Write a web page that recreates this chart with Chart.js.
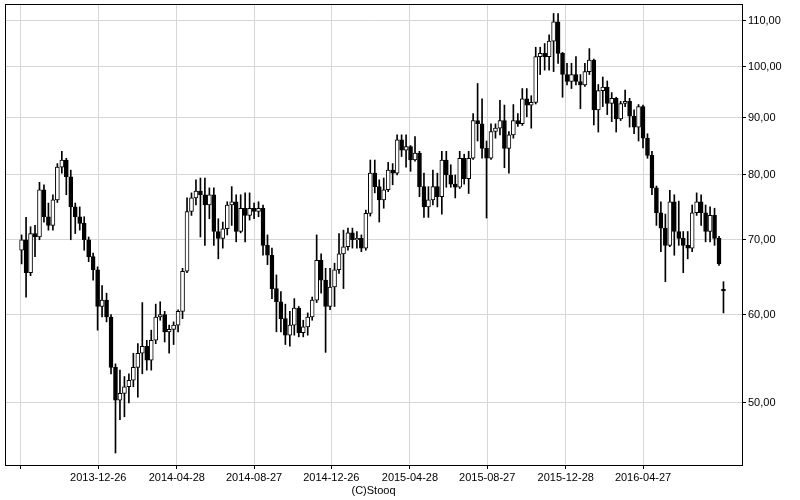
<!DOCTYPE html>
<html>
<head>
<meta charset="utf-8">
<script src="https://cdn.jsdelivr.net/npm/chart.js@4"></script>
<style>
  html, body { margin: 0; padding: 0; background: #fff; }
</style>
</head>
<body>
<canvas id="stockChart" width="800" height="500"></canvas>
<script>
// weekly candles, first week starting 2013-08-28 (last entry = last session)
const firstWeek = "2013-08-28";

const open = [
  68.5, 70.0, 65.4, 70.9, 70.4, 77.6, 73.4, 72.1, 76.0, 81.3,
  82.5, 79.7, 74.9, 73.4, 72.4, 70.0, 67.6, 65.8, 61.0, 61.8,
  59.7, 53.8, 50.3, 51.0, 51.7, 52.4, 53.8, 55.4, 56.2, 54.6,
  56.9, 59.7, 60.0, 57.9, 58.2, 58.7, 60.4, 65.6, 74.2, 76.3,
  77.4, 76.8, 75.2, 76.8, 71.2, 70.2, 71.6, 75.2, 75.7, 71.2,
  74.7, 73.6, 74.7, 74.2, 74.7, 69.2, 67.8, 63.3, 61.6, 59.5,
  57.5, 58.7, 60.8, 57.8, 58.5, 59.7, 61.8, 67.1, 64.4, 61.0,
  63.5, 65.8, 68.0, 69.0, 71.0, 70.0, 70.2, 68.8, 73.9, 80.3,
  78.1, 76.0, 77.6, 80.8, 80.3, 86.0, 84.2, 84.8, 82.5, 83.7,
  78.1, 74.9, 76.0, 78.1, 76.5, 82.5, 80.0, 78.5, 78.0, 82.8,
  79.4, 82.8, 89.5, 88.9, 84.5, 82.8, 87.5, 88.1, 89.5, 84.5,
  86.9, 89.5, 88.9, 93.6, 92.4, 92.9, 102.1, 102.8, 102.1, 105.4,
  109.7, 102.8, 98.4, 97.0, 98.4, 97.0, 96.3, 99.0, 101.4, 91.5,
  95.2, 95.9, 92.7, 93.7, 89.8, 92.7, 93.1, 90.3, 88.3, 92.1,
  86.3, 83.3, 77.9, 74.0, 71.7, 69.2, 75.7, 71.2, 70.2, 69.2,
  68.8, 74.0, 75.7, 74.0, 71.2, 73.6, 70.2, 63.2
];
const high = [
  70.7, 73.3, 71.9, 72.1, 78.8, 78.4, 75.5, 76.8, 81.9, 84.0,
  82.8, 80.8, 75.5, 74.9, 73.4, 70.4, 68.1, 66.2, 63.7, 62.7,
  60.0, 54.2, 53.5, 52.8, 53.1, 55.4, 56.5, 61.5, 56.9, 58.1,
  61.3, 61.6, 60.4, 58.7, 59.1, 60.6, 66.0, 76.3, 77.1, 79.2,
  79.5, 79.5, 77.9, 77.9, 73.1, 72.6, 75.7, 78.1, 76.8, 76.8,
  77.1, 77.1, 75.5, 75.7, 75.2, 70.7, 68.8, 65.1, 62.9, 61.3,
  60.4, 62.0, 61.0, 59.3, 60.2, 62.2, 70.7, 68.0, 66.0, 66.0,
  66.7, 70.9, 71.4, 71.7, 71.7, 71.2, 70.7, 74.4, 82.5, 82.5,
  79.2, 79.5, 82.1, 81.9, 86.9, 86.9, 86.9, 85.0, 86.6, 84.0,
  80.3, 78.1, 80.8, 80.3, 84.0, 84.0, 81.7, 80.0, 84.0, 83.5,
  84.0, 90.8, 96.6, 93.6, 85.8, 88.9, 88.9, 93.3, 92.4, 87.5,
  92.5, 90.8, 95.6, 95.6, 94.2, 104.1, 104.1, 104.9, 106.8, 111.6,
  111.6, 103.0, 100.7, 100.7, 102.1, 98.4, 100.7, 103.8, 101.6, 96.4,
  97.9, 97.1, 94.8, 93.9, 93.1, 95.3, 93.7, 91.5, 92.5, 92.4,
  87.1, 84.0, 78.2, 75.7, 73.8, 77.5, 76.8, 75.8, 71.2, 71.2,
  75.2, 77.1, 76.8, 75.2, 74.9, 74.7, 70.5, 64.2
];
const low = [
  66.6, 62.2, 65.0, 67.6, 70.0, 72.6, 71.4, 71.4, 75.6, 80.3,
  76.8, 70.0, 70.9, 71.4, 68.5, 66.9, 64.4, 58.1, 59.7, 59.1,
  53.1, 45.1, 48.3, 48.6, 50.0, 51.7, 50.6, 53.1, 53.5, 53.5,
  56.5, 59.3, 56.7, 55.4, 56.4, 57.9, 59.5, 65.4, 73.6, 75.2,
  70.4, 69.2, 73.1, 69.2, 67.3, 68.8, 70.7, 72.1, 69.7, 71.0,
  69.7, 72.9, 73.1, 73.4, 67.8, 66.5, 62.0, 57.9, 57.9, 56.4,
  56.2, 57.5, 57.3, 57.3, 57.5, 59.3, 61.5, 62.7, 55.5, 60.6,
  61.0, 65.3, 63.3, 68.5, 68.8, 68.8, 68.3, 68.5, 73.5, 77.1,
  72.6, 74.7, 77.3, 78.4, 80.0, 83.1, 81.3, 80.6, 82.3, 76.5,
  73.3, 73.3, 75.2, 74.9, 73.8, 78.0, 78.0, 76.3, 77.8, 78.5,
  77.0, 82.6, 85.8, 82.8, 73.2, 82.6, 86.3, 86.9, 81.2, 80.3,
  86.3, 88.4, 88.6, 90.2, 88.1, 92.6, 98.4, 99.3, 99.3, 99.0,
  100.7, 93.9, 96.3, 95.6, 96.3, 91.7, 96.0, 98.4, 88.7, 87.4,
  92.1, 90.6, 89.3, 87.4, 89.5, 92.1, 88.3, 87.1, 85.8, 84.6,
  82.8, 76.8, 72.1, 68.3, 64.2, 69.0, 67.8, 69.2, 65.4, 67.3,
  68.3, 73.6, 72.1, 69.7, 69.7, 69.2, 66.4, 60.2
];
const close = [
  70.0, 65.4, 70.9, 70.4, 77.6, 73.4, 72.1, 76.0, 81.3, 82.5,
  79.7, 74.9, 73.4, 72.4, 70.0, 67.6, 65.8, 61.0, 61.8, 59.7,
  53.8, 50.3, 51.0, 51.7, 52.4, 53.8, 55.4, 56.2, 54.6, 56.9,
  59.7, 60.0, 57.9, 58.2, 58.7, 60.4, 65.6, 74.2, 76.3, 77.4,
  76.8, 75.2, 76.8, 71.2, 70.2, 71.6, 75.2, 75.7, 71.2, 74.7,
  73.6, 74.7, 74.2, 74.7, 69.2, 67.8, 63.3, 61.6, 59.5, 57.5,
  58.7, 60.8, 57.8, 58.5, 59.7, 61.8, 67.1, 64.4, 61.0, 63.5,
  65.8, 68.0, 69.0, 71.0, 70.0, 70.2, 68.8, 73.9, 80.3, 78.1,
  76.0, 77.6, 80.8, 80.3, 86.0, 84.2, 84.8, 82.5, 83.7, 78.1,
  74.9, 76.0, 78.1, 76.5, 82.5, 80.0, 78.5, 78.0, 82.8, 79.4,
  82.8, 89.5, 88.9, 84.5, 82.8, 87.5, 88.1, 89.5, 84.5, 86.9,
  89.5, 88.9, 93.6, 92.4, 92.9, 102.1, 102.8, 102.1, 105.4, 109.7,
  102.8, 98.4, 97.0, 98.4, 97.0, 96.3, 99.0, 101.4, 91.5, 95.2,
  95.9, 92.7, 93.7, 89.8, 92.7, 93.1, 90.3, 88.3, 92.1, 86.3,
  83.3, 77.9, 74.0, 71.7, 69.2, 75.7, 71.2, 70.2, 69.2, 68.8,
  74.0, 75.7, 74.0, 71.2, 73.6, 70.2, 66.6, 63.0
];

const tickDates = ["2013-08-26", "2013-12-26", "2014-04-28", "2014-08-27", "2014-12-26",
                   "2015-04-28", "2015-08-27", "2015-12-28", "2016-04-27"];
const tickLabels = ["", "2013-12-26", "2014-04-28", "2014-08-27", "2014-12-26",
                    "2015-04-28", "2015-08-27", "2015-12-28", "2016-04-27"];
const priceTicks = [50, 60, 70, 80, 90, 100, 110];

const DAY = 86400000;
const dayOf = (s) => (Date.parse(s) - Date.parse(firstWeek)) / DAY;

const xs = open.map((_, i) => i * 7);
const bodies = xs.map((x, i) => ({ x: x, y: [open[i], close[i]] }));
const wicks = xs.map((x, i) => ({ x: x, y: [low[i], high[i]] }));
const bodyFill = close.map((c, i) => (c > open[i] ? "#ffffff" : "#000000"));

const font = { family: "'Liberation Sans', Arial, sans-serif", size: 11 };
const gridColor = "#d6d6d6";

// black frame round the plot area
const frame = {
  id: "frame",
  afterDraw(chart) {
    const { ctx, chartArea: a } = chart;
    ctx.save();
    ctx.strokeStyle = "#000";
    ctx.lineWidth = 1;
    ctx.strokeRect(a.left + 0.5, a.top + 0.5, a.right - a.left, a.bottom - a.top);
    ctx.restore();
  },
};

new Chart(document.getElementById("stockChart"), {
  type: "bar",
  data: {
    datasets: [
      {
        label: "body",
        data: bodies,
        backgroundColor: bodyFill,
        borderColor: "#000",
        borderWidth: 1,
        borderSkipped: false,
        barThickness: 4,
        grouped: false,
        order: 0,
      },
      {
        label: "wick",
        data: wicks,
        backgroundColor: "#000",
        barThickness: 1,
        grouped: false,
        order: 1,
      },
    ],
  },
  options: {
    responsive: false,
    animation: false,
    layout: { padding: { left: 5, top: 4, right: 0, bottom: 0 } },
    plugins: { legend: { display: false }, tooltip: { enabled: false } },
    scales: {
      x: {
        type: "linear",
        offset: false,
        bounds: "data",
        min: dayOf("2013-08-02"),
        max: dayOf("2016-09-29"),
        afterBuildTicks: (s) => { s.ticks = tickDates.map((d) => ({ value: dayOf(d) })); },
        afterFit: (s) => { s.height = 35; s.paddingLeft = 0; s.paddingRight = 0; },
        grid: { offset: false, color: gridColor, tickColor: "#000", tickLength: 4 },
        border: { display: false },
        ticks: {
          autoSkip: false,
          maxRotation: 0,
          padding: 2,
          color: "#000",
          font: font,
          callback: (v, i) => tickLabels[i],
        },
        title: {
          display: true,
          text: "(C)Stooq",
          color: "#000",
          font: font,
          padding: { top: 0, bottom: 2 },
        },
      },
      y: {
        type: "logarithmic",
        position: "right",
        bounds: "data",
        min: 44,
        max: 113.8,
        afterBuildTicks: (s) => { s.ticks = priceTicks.map((v) => ({ value: v })); },
        afterFit: (s) => { s.width = 58; s.paddingTop = 0; s.paddingBottom = 0; },
        grid: { color: gridColor, tickColor: "#000", tickLength: 4 },
        border: { display: false },
        ticks: {
          padding: 2,
          color: "#000",
          font: font,
          callback: (v) => v.toFixed(2).replace(".", ","),
        },
      },
    },
  },
  plugins: [frame],
});
</script>
</body>
</html>
